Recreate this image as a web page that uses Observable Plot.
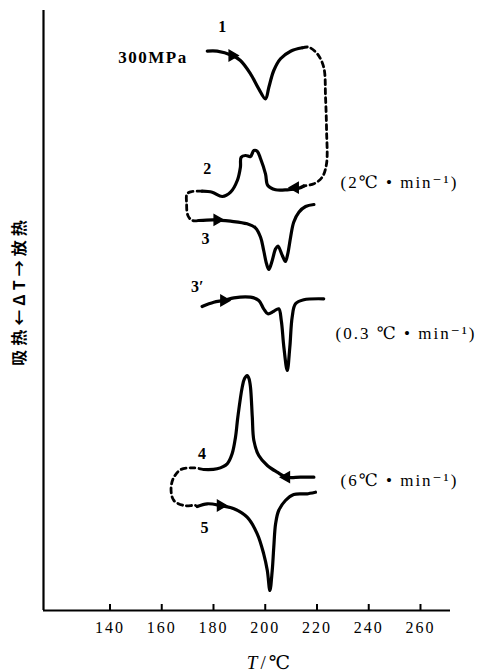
<!DOCTYPE html>
<html><head><meta charset="utf-8">
<script src="https://cdn.jsdelivr.net/npm/d3@7"></script>
<script src="https://cdn.jsdelivr.net/npm/@observablehq/plot@0.6"></script>
<style>body{margin:0;background:#fff}</style>
</head><body><div id="chart"></div>
<script>
// x: temperature T (°C); y: ΔT offset (arbitrary units, curves stacked vertically)
const xTicks = [140, 160, 180, 200, 220, 240, 260];
const xDomain = [114.3, 271.6];
const yDomain = [0, 600];

// curve 1: 300MPa heating
const curve1 = [[177.6,559.3],[181.4,559.3],[187.2,555],[190.4,550],[194.3,536.7],[197.5,521.7],[200.1,511.7],[201.4,523.3],[203.3,540],[205.9,551.7],[209.8,559.3],[214.3,562.7]];
// curve 2: cooling 2 °C/min
const curve2 = [[175.6,419.3],[179.5,418.3],[183.4,414],[186.6,418.3],[189.2,430],[190.4,443.3],[190.7,453.3],[192.4,455],[194.3,454],[195.6,460],[196.9,459.3],[198.2,451.7],[200.1,436.7],[201.0,425],[204.0,420.7],[208.5,420.7],[213.0,422.3],[214.9,424.5]];
// curve 3: reheating
const curve3 = [[174.3,390],[180.1,390.7],[186.6,389.3],[193.0,386.7],[196.2,382.7],[198.2,373.3],[199.4,360],[200.5,346.7],[201.4,341],[202.7,350],[204.0,361.7],[204.9,364.5],[206.6,355],[207.8,349],[208.7,356.7],[209.8,373.3],[211.0,388.3],[213.0,398.3],[215.6,404],[218.8,406]];
// curve 3': 0.3 °C/min
const curve3p = [[175.6,304],[180.1,308.3],[184.0,310],[187.9,312.7],[194.3,313.3],[197.5,310],[199.4,301.7],[201.0,296.7],[203.3,299.3],[205.2,301.7],[206.2,290],[207.2,263.3],[208.5,240],[209.5,263.3],[210.4,293.3],[211.7,306.7],[214.9,310.7],[222.6,311.7]];
// curve 4: cooling 6 °C/min
const curve4 = [[176.3,141],[181.4,141.7],[185.3,146.7],[187.2,156.7],[188.5,173.3],[189.4,193.3],[191.1,223.3],[192.0,232],[193.0,235],[193.7,232],[194.3,223.3],[195.0,193.3],[195.6,170],[197.5,155],[200.8,145],[204.6,138.3],[208.2,133.3],[213.6,133.3],[218.8,133.3]];
// curve 5: reheating 6 °C/min
const curve5 = [[173.7,104],[177.6,106.7],[182.7,105],[187.9,101.7],[193.0,93.3],[196.9,76.7],[199.4,56.7],[200.8,40],[201.8,20],[202.7,40],[203.3,63.3],[204.0,86.7],[205.2,100],[207.8,110],[211.0,116],[216.2,116.7],[219.4,118.3]];

// dashed connectors
const link12 = [[214.3,562.7],[216.8,563.3],[220.1,556.7],[222.6,543.3],[223.3,513.3],[223.7,480],[223.7,447],[222.0,433.3],[218.8,426.7],[214.9,424.5]];
const link23 = [[175.6,419.3],[171.8,419],[169.8,416.7],[169.6,407],[170.1,395],[171.8,390],[174.3,390]];
const link45 = [[176.3,141],[171.8,142.7],[167.2,140.7],[164.4,131.7],[163.6,120],[164.7,110],[168.5,105],[173.0,105],[173.7,104]];

// direction arrows: [T, y, angle]
const arrows = [[187.2,555,90],[211.6,422.8,-90],[181.4,390.7,90],[184.0,310,90],[208.2,133.3,-90],[182.7,105,90]];

// labels
const curveLabels = [["1",183.4,583.3],["2",177.6,441.7],["3",176.9,371.7],["3′",173.7,323.3],["4",175.6,156.7],["5",176.5,82.7]];
const noteLabels = [["300MPa",156.6,553,"middle"],["(2℃ • min⁻¹)",229.1,428.3,"start"],["(0.3 ℃ • min⁻¹)",227.2,276.7,"start"],["(6℃ • min⁻¹)",229.1,130,"start"]];

const rows = (pts, id) => pts.map(([T, v]) => ({T, v, id}));
const solid = [...rows(curve1,"1"),...rows(curve2,"2"),...rows(curve3,"3"),...rows(curve3p,"3p"),...rows(curve4,"4"),...rows(curve5,"5")];
const dashed = [...rows(link12,"a"),...rows(link23,"b"),...rows(link45,"c")];
const arrowRows = arrows.map(([T, v, a]) => ({T, v, a}));
const cl = curveLabels.map(([t, T, v]) => ({t, T, v}));
const nl = noteLabels.map(([t, T, v, anchor]) => ({t, T, v, anchor}));

const serif = "'Liberation Serif','DejaVu Serif',serif";

const chart = Plot.plot({
  width: 488, height: 672,
  marginLeft: 43, marginRight: 38, marginTop: 10, marginBottom: 62,
  x: {domain: xDomain},
  y: {domain: yDomain, axis: null},
  style: {fontFamily: serif, color: "#000", background: "#fff"},
  marks: [
    Plot.ruleX([xDomain[0]], {stroke: "#000", strokeWidth: 2.2}),
    Plot.ruleY([0], {stroke: "#000", strokeWidth: 2.2}),
    Plot.ruleX(xTicks, {y1: 0, y2: 6, stroke: "#000", strokeWidth: 2}),
    Plot.axisX({ticks: xTicks, tickSize: 0, tickPadding: 11, fontSize: 16, label: null}),
    Plot.line(dashed, {x: "T", y: "v", z: "id", curve: "catmull-rom", stroke: "#000", strokeWidth: 2.8, strokeDasharray: "5,4"}),
    Plot.line(solid, {x: "T", y: "v", z: "id", curve: "catmull-rom", stroke: "#000", strokeWidth: 3.2, strokeLinejoin: "round", strokeLinecap: "round"}),
    Plot.dot(arrowRows, {x: "T", y: "v", rotate: "a", symbol: "triangle", r: 3.8, fill: "#000", stroke: "#000"}),
    Plot.text(cl, {x: "T", y: "v", text: "t", fontSize: 16, fontWeight: "bold", fill: "#000"}),
    Plot.text(nl.filter(d => d.anchor === "middle"), {x: "T", y: "v", text: "t", fontSize: 17, fontWeight: "bold", fill: "#000", textAnchor: "middle"}),
    Plot.text(nl.filter(d => d.anchor === "start"), {x: "T", y: "v", text: "t", fontSize: 17, fill: "#000", textAnchor: "start"})
  ]
});

const svg = d3.select(chart);
svg.selectAll("[aria-label='x-axis tick label'] text").attr("letter-spacing", "2");
svg.selectAll("[aria-label='text'] text").filter(function() { return this.textContent.startsWith("(") || this.textContent === "300MPa"; })
  .attr("letter-spacing", function() { return this.textContent === "300MPa" ? "1.5" : "2"; });
const xs = chart.scale("x");
const xl = svg.append("text")
  .attr("x", xs.apply(202)).attr("y", 665)
  .attr("text-anchor", "middle").attr("dominant-baseline", "middle")
  .attr("font-size", 19).attr("font-family", serif).attr("fill", "#000").attr("letter-spacing", "3");
xl.append("tspan").attr("font-style", "italic").text("T");
xl.append("tspan").text("/℃");
svg.append("text")
  .attr("transform", "translate(21,291) rotate(-90)")
  .attr("text-anchor", "middle").attr("dominant-baseline", "middle")
  .attr("font-size", 16).attr("font-weight", "bold").attr("letter-spacing", "4")
  .attr("font-family", "'Noto Sans CJK SC',sans-serif").attr("fill", "#000")
  .text("吸热←ΔT→放热");
document.getElementById("chart").append(chart);
</script>
</body></html>
